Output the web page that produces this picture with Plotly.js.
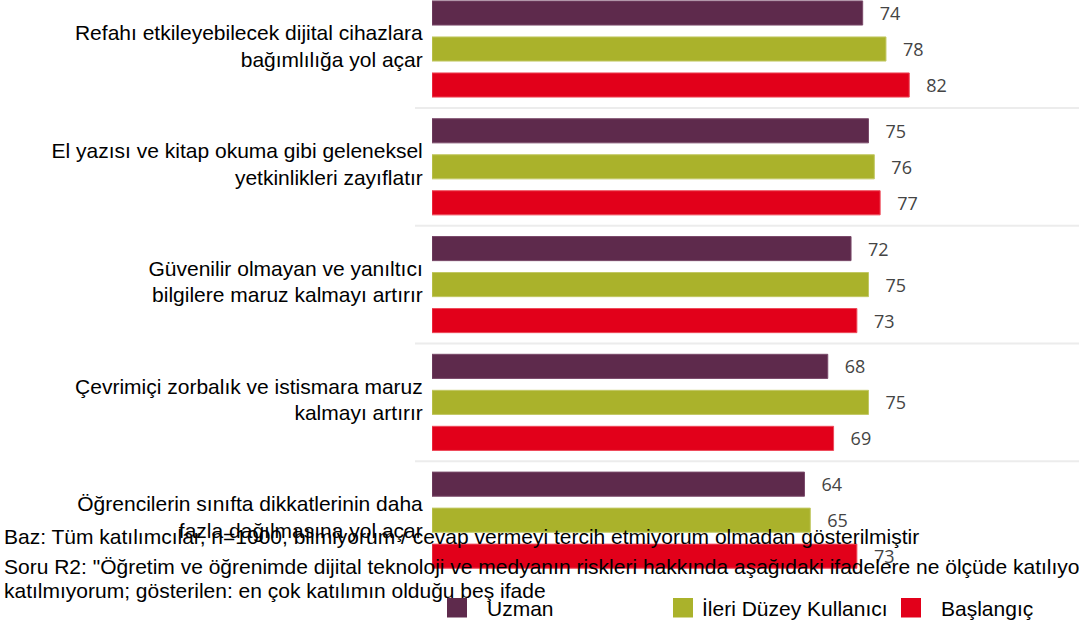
<!DOCTYPE html>
<html>
<head>
<meta charset="utf-8">
<script src="https://cdn.plot.ly/plotly-3.0.1.min.js"></script>
<style>
  html, body { margin: 0; padding: 0; background: #ffffff; }
  #chart { width: 1079px; height: 621px; }
</style>
</head>
<body>
<div id="chart"></div>
<script>
// ---- data ----
const categories = [
  "Refahı etkileyebilecek dijital cihazlara<br>bağımlılığa yol açar",
  "El yazısı ve kitap okuma gibi geleneksel<br>yetkinlikleri zayıflatır",
  "Güvenilir olmayan ve yanıltıcı<br>bilgilere maruz kalmayı artırır",
  "Çevrimiçi zorbalık ve istismara maruz<br>kalmayı artırır",
  "Öğrencilerin sınıfta dikkatlerinin daha<br>fazla dağılmasına yol açar"
];
const seriesNames = ["Uzman", "İleri Düzey Kullanıcı", "Başlangıç"];
const uzman = [74, 75, 72, 68, 64];
const ileri = [78, 76, 75, 75, 65];
const baslangic = [82, 77, 73, 69, 73];
const footnotes = [
  "Baz: Tüm katılımcılar, n=1000, bilmiyorum / cevap vermeyi tercih etmiyorum olmadan gösterilmiştir",
  "Soru R2: \"Öğretim ve öğrenimde dijital teknoloji ve medyanın riskleri hakkında aşağıdaki ifadelere ne ölçüde katılıyorsunuz?\"",
  "katılmıyorum; gösterilen: en çok katılımın olduğu beş ifade"
];

// ---- styling ----
const colors = ["#5E2A4C", "#AAB22B", "#E2001A"];
const edge = ["#7a4a6a", "#c2c864", "#ee4a5a"];
const W = 1079, H = 621, ML = 432;
const PW = W - ML;
const FONT = "Liberation Sans, Arial, sans-serif";
const px2x = p => (p - ML) / PW;
const px2y = p => 1 - p / H;

const seriesValues = [uzman, ileri, baslangic];
const traces = seriesValues.map((vals, i) => ({
  type: "bar",
  orientation: "h",
  name: seriesNames[i],
  y: categories,
  x: vals,
  marker: { color: colors[i], line: { color: edge[i], width: 1 } },
  texttemplate: "\u00A0\u00A0\u00A0%{x}",
  textposition: "outside",
  cliponaxis: false,
  textfont: { family: "Open Sans, sans-serif", size: 18, color: "#444444" },
  hoverinfo: "x+name",
  showlegend: false
}));

// separators between category groups
const shapes = [];
for (let i = 0; i < categories.length - 1; i++) {
  shapes.push({
    type: "line", xref: "paper", yref: "y",
    x0: px2x(415), x1: 1.0,
    y0: i + 0.5, y1: i + 0.5,
    line: { color: "#ececec", width: 2 },
    layer: "below"
  });
}

const footY = [536, 566, 590];
const annotations = footnotes.map((t, i) => ({
  xref: "paper", yref: "paper",
  x: px2x(2), xanchor: "left",
  y: px2y(footY[i]), yanchor: "middle",
  text: t, showarrow: false, align: "left",
  font: { family: FONT, size: 21, color: "#000000" }
}));

// custom legend (squares + names)
const legSquareX = [447, 673, 901];
const legTextX = [485, 700, 939];
const legY = 608;
seriesNames.forEach((n, i) => {
  shapes.push({
    type: "rect", xref: "paper", yref: "paper",
    x0: px2x(legSquareX[i]), x1: px2x(legSquareX[i] + 20),
    y0: px2y(legY - 10), y1: px2y(legY + 9.5),
    fillcolor: colors[i], line: { width: 0 }
  });
  annotations.push({
    xref: "paper", yref: "paper",
    x: px2x(legTextX[i]), xanchor: "left",
    y: px2y(legY), yanchor: "middle",
    text: n, showarrow: false,
    font: { family: FONT, size: 21, color: "#000000" }
  });
});

const layout = {
  width: W, height: H,
  margin: { l: ML, r: 0, t: 0, b: 0, pad: 0 },
  paper_bgcolor: "#ffffff",
  plot_bgcolor: "#ffffff",
  barmode: "group",
  bargap: 0.083,
  bargroupgap: 0.33,
  showlegend: false,
  xaxis: {
    range: [0, PW / 5.82],
    showgrid: false, zeroline: false, showline: false,
    showticklabels: false, ticks: "", fixedrange: true
  },
  yaxis: {
    type: "category",
    range: [4.856, -0.416],
    showgrid: false, zeroline: false, showline: false,
    ticks: "outside", ticklen: 4, tickcolor: "rgba(0,0,0,0)",
    tickfont: { family: FONT, size: 21, color: "#000000" },
    automargin: false, fixedrange: true
  },
  shapes: shapes,
  annotations: annotations
};

Plotly.newPlot("chart", traces, layout, { displayModeBar: false, staticPlot: true }).then(() => {
  // tighten the line spacing of the two-line category labels
  document.querySelectorAll("#chart .ytick text").forEach(t => {
    const lines = t.querySelectorAll("tspan.line");
    if (lines.length > 1) {
      lines[0].setAttribute("dy", "-2.5");
      for (let i = 1; i < lines.length; i++) lines[i].setAttribute("dy", "1.15em");
    }
  });
});
</script>
</body>
</html>
